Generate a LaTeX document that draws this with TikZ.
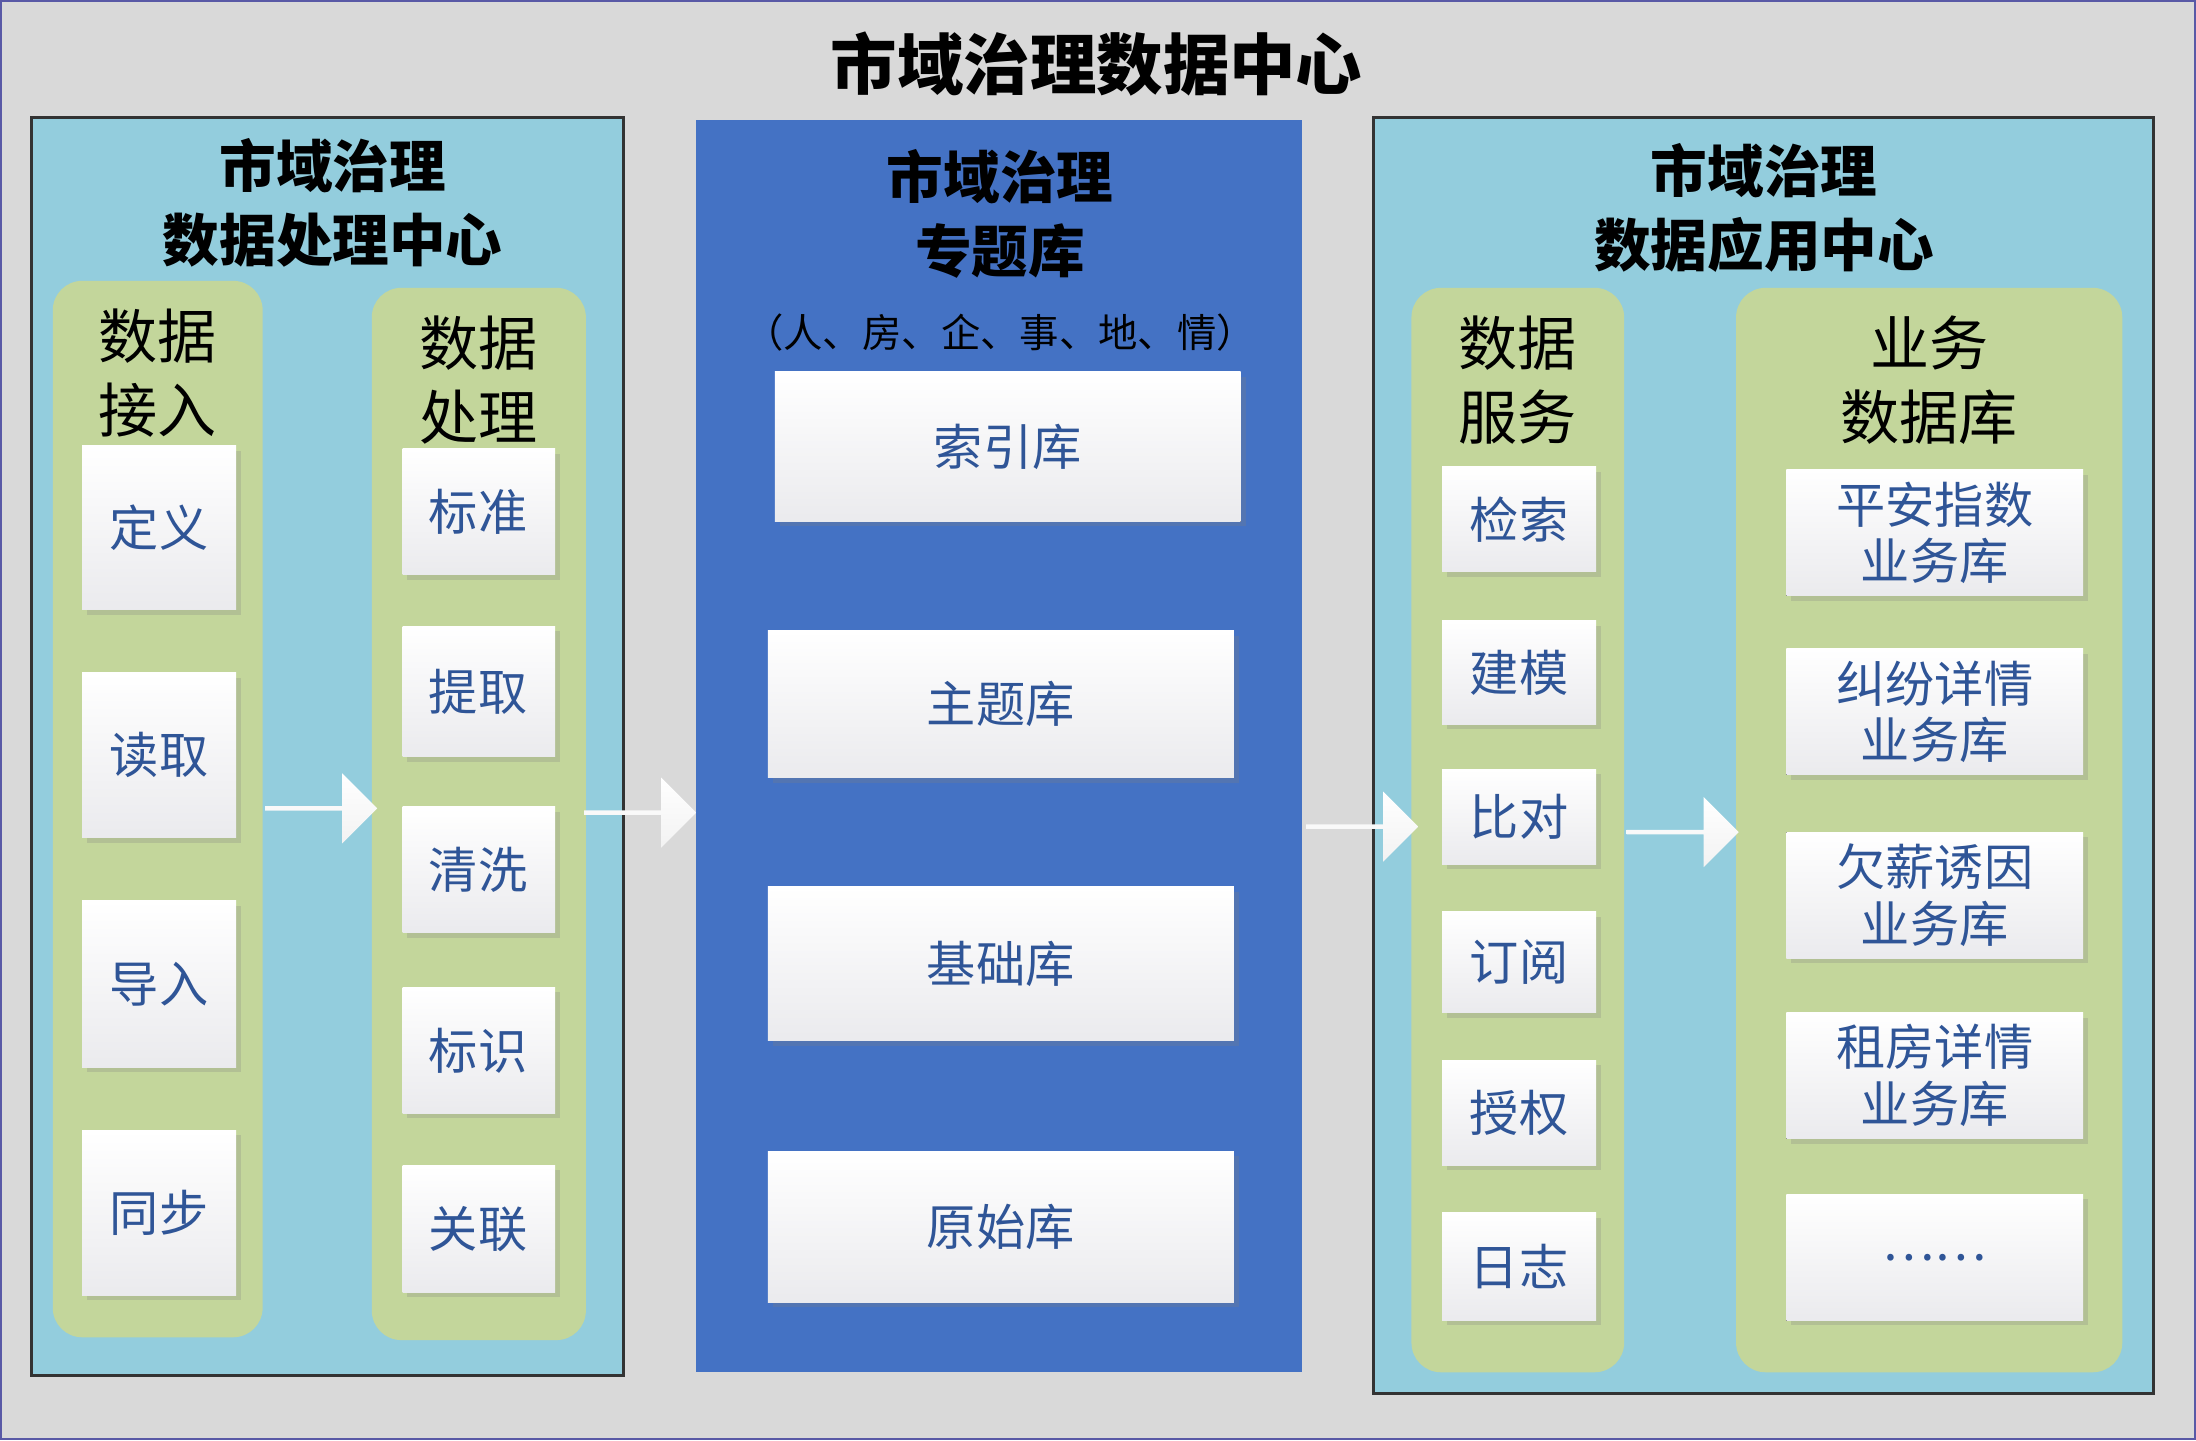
\documentclass[tikz,border=0pt]{standalone}
\usepackage{fontspec}
\setmainfont{Noto Sans CJK SC}
\usetikzlibrary{shapes.arrows,shadows}
\definecolor{bgc}{HTML}{D9D9D9}
\definecolor{teal}{HTML}{93CDDD}
\definecolor{grn}{HTML}{C3D69B}
\definecolor{mid}{HTML}{4472C4}
\definecolor{txt}{HTML}{2F5597}
\begin{document}
\begin{tikzpicture}[x=0.01cm,y=-0.01cm,
 panel/.style={draw=black!80,line width=0.6pt,fill=teal},
 col/.style={fill=grn,rounded corners=6pt},
 wbox/.style={top color=white,bottom color=blue!8!gray!15,drop shadow={opacity=0.25,shadow xshift=1pt,shadow yshift=-1pt}},
 btxt/.style={text=txt,font=\fontsize{10}{12}\selectfont,align=center},
 ttl/.style={font=\bfseries\fontsize{11.5}{15}\selectfont,align=center},
 sub/.style={font=\fontsize{12}{15}\selectfont,align=center},
 barrow/.style={single arrow,minimum height=0.8cm,minimum width=0.5cm,single arrow head extend=0.1cm,inner sep=0pt,top color=white,bottom color=gray!10}]
\fill[bgc,draw=blue!30!gray] (0,0) rectangle (1568,1028);
\node[font=\bfseries\fontsize{13.5}{16}\selectfont] (title) at (783,45) {市域治理数据中心};
% left panel
\draw[panel] (22,83) rectangle (445,982);
\node[ttl] (lt) at (237,144) {市域治理\\数据处理中心};
\fill[col] (37,200) rectangle (187,955);
\node[sub] (l1) at (112,266) {数据\\接入};
\fill[col] (265,205) rectangle (418,957);
\node[sub] (l2) at (341,271) {数据\\处理};
\foreach \t/\a/\b in {定义/318/435,读取/480/598,导入/643/762,同步/807/925}{
 \fill[wbox] (58,\a) rectangle (168,\b);
 \node[btxt] (n\t) at (113,{(\a+\b)/2}) {\t};}
\foreach \t/\a/\b in {标准/320/410,提取/447/540,清洗/576/666,标识/705/795,关联/832/923}{
 \fill[wbox] (287,\a) rectangle (396,\b);
 \node[btxt] (n\t) at (341,{(\a+\b)/2}) {\t};}
% middle
\fill[mid] (497,85) rectangle (930,980);
\node[ttl] (mt) at (714,152) {市域治理\\专题库};
\node[font=\fontsize{8}{10}\selectfont] (mp) at (714,237) {（人、房、企、事、地、情）};
\foreach \t/\xa/\xb/\a/\b in {索引库/553/886/265/372,主题库/548/881/450/555,基础库/548/881/633/743,原始库/548/881/822/930}{
 \fill[wbox] (\xa,\a) rectangle (\xb,\b);
 \node[btxt] (n\t) at ({(\xa+\xb)/2},{(\a+\b)/2}) {\t};}
% right
\draw[panel] (981,83) rectangle (1538,995);
\node[ttl] (rt) at (1260,148) {市域治理\\数据应用中心};
\fill[col] (1008,205) rectangle (1160,980);
\node[sub] (r1) at (1084,271) {数据\\服务};
\fill[col] (1240,205) rectangle (1516,980);
\node[sub] (r2) at (1378,271) {业务\\数据库};
\foreach \t/\a/\b in {检索/333/408,建模/443/517,比对/549/617,订阅/651/723,授权/757/832,日志/866/943}{
 \fill[wbox] (1030,\a) rectangle (1140,\b);
 \node[btxt] (n\t) at (1085,{(\a+\b)/2}) {\t};}
\foreach \i/\t/\a/\b in {1/{平安指数\\业务库}/335/425,2/{纠纷详情\\业务库}/463/553,3/{欠薪诱因\\业务库}/594/684,4/{租房详情\\业务库}/723/813,5/{\ldots\ldots}/853/943}{
 \fill[wbox] (1276,\a) rectangle (1488,\b);
 \node[btxt,font=\fontsize{10}{11.5}\selectfont] (b\i) at (1382,{(\a+\b)/2}) {\t};}
% arrows
\node[barrow] (a1) at (228,577) {};
\node[barrow] (a2) at (456,580) {};
\node[barrow] (a3) at (972,590) {};
\node[barrow] (a4) at (1201,594) {};
\end{tikzpicture}
\end{document}
